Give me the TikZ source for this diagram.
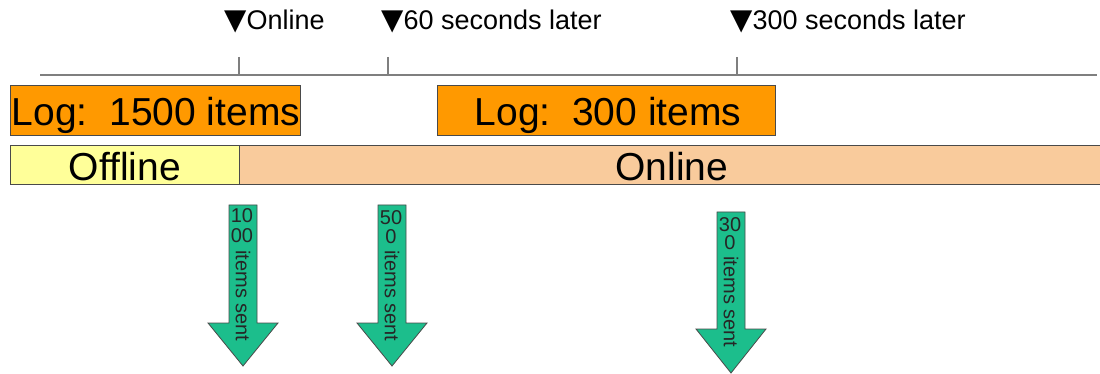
\documentclass[tikz,border=0pt]{standalone}
\usepackage{fontspec}
\setmainfont{Liberation Sans}
\newfontfamily\symfont{DejaVu Sans}
\definecolor{logorange}{HTML}{FF9900}
\definecolor{offyellow}{HTML}{FFFF99}
\definecolor{onpeach}{HTML}{F9CB9C}
\definecolor{sendgreen}{RGB}{28,190,140}
\definecolor{edgegray}{HTML}{4A4A4A}
\definecolor{linegray}{HTML}{7F7F7F}
\tikzset{
  box/.style={draw=edgegray, line width=1pt, inner sep=0pt, anchor=center},
  logbox/.style={box, fill=logorange, minimum height=50pt},
  statebox/.style={box, fill=#1, minimum height=39pt},
  bigtxt/.style={anchor=base, inner sep=0pt, font=\fontsize{39}{42}\selectfont},
  toplabel/.style={anchor=base west, inner sep=0pt, font=\fontsize{27}{30}\selectfont},
  tri/.style={font=\symfont\fontsize{29}{30}\selectfont},
  tickline/.style={draw=linegray, line width=1.3pt},
  sendarrow/.style={fill=sendgreen, draw=edgegray, line width=0.8pt, line join=miter},
  arrowtxt/.style={inner sep=0pt, font=\fontsize{20}{21}\selectfont, text=black!85}
}
\begin{document}
\begin{tikzpicture}[x=1pt, y=-1pt]
\useasboundingbox (0,0) rectangle (1100,374);
% timeline
\coordinate (tl0) at (40,75);
\coordinate (tl1) at (1097,75);
\draw[tickline] (tl0) -- (tl1);
\coordinate (t1a) at (239,57); \coordinate (t1b) at (239,75);
\coordinate (t2a) at (388,57); \coordinate (t2b) at (388,75);
\coordinate (t3a) at (737,57); \coordinate (t3b) at (737,75);
\draw[tickline] (t1a) -- (t1b);
\draw[tickline] (t2a) -- (t2b);
\draw[tickline] (t3a) -- (t3b);
% top labels
\node[toplabel] (lab1) at (224,30) {{\symfont\fontsize{29}{30}\selectfont ▼}Online};
\node[toplabel] (lab2) at (381,30) {{\symfont\fontsize{29}{30}\selectfont ▼}60 seconds later};
\node[toplabel] (lab3) at (730,30) {{\symfont\fontsize{29}{30}\selectfont ▼}300 seconds later};
% log boxes
\node[logbox, minimum width=290pt] (log1) at (155,111) {};
\node[bigtxt] (log1t) at (156,126) {Log:\ \ 1500 items};
\node[logbox, minimum width=338pt] (log2) at (606,111) {};
\node[bigtxt] (log2t) at (608,126) {Log:\ \ 300 items};
% state bars
\node[statebox=offyellow, minimum width=229pt] (off) at (124.5,165.5) {};
\node[bigtxt] (offt) at (125,181) {Offline};
\node[statebox=onpeach, minimum width=862pt] (on) at (670,165.5) {};
\node[bigtxt] (ont) at (672,181) {Online};
% arrows
\draw[sendarrow] (229,205) -- (257,205) -- (257,323) -- (278,323) -- (243,366) -- (208,323) -- (229,323) -- cycle;
\draw[sendarrow] (378,205) -- (406,205) -- (406,323) -- (427,323) -- (392,366) -- (357,323) -- (378,323) -- cycle;
\draw[sendarrow] (717,212) -- (745,212) -- (745,329) -- (766,329) -- (731,373) -- (696,329) -- (717,329) -- cycle;
% arrow texts
\node[arrowtxt] (a1l1) at (242,216) {10};
\node[arrowtxt] (a1l2) at (242,236) {00};
\node[arrowtxt, rotate=-90] (a1l3) at (243,296) {items sent};
\node[arrowtxt] (a2l1) at (391,218) {50};
\node[arrowtxt] (a2l2) at (391,237) {0};
\node[arrowtxt, rotate=-90] (a2l3) at (392,296) {items sent};
\node[arrowtxt] (a3l1) at (730,225) {30};
\node[arrowtxt] (a3l2) at (730,243) {0};
\node[arrowtxt, rotate=-90] (a3l3) at (731,302) {items sent};
\end{tikzpicture}
\end{document}
